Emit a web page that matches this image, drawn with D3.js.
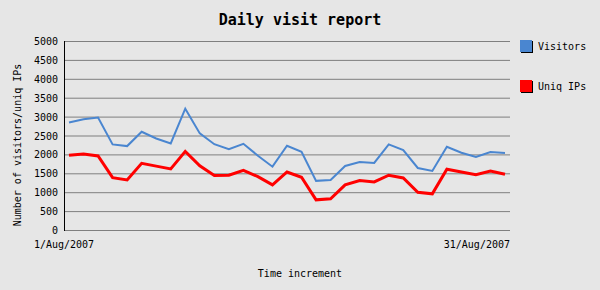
<!DOCTYPE html>
<html>
<head>
<meta charset="utf-8">
<script src="https://cdn.jsdelivr.net/npm/d3@7"></script>
<style>
  body { margin: 0; background: #e6e6e6; }
  svg { display: block; }
  text { font-family: "DejaVu Sans Mono", monospace; fill: #000; }
</style>
</head>
<body>
<div id="chart"></div>
<script>
"use strict";

// values, one per day of August 2007
const days = d3.range(1, 32);
const visitors = [2845, 2930, 2975, 2265, 2220, 2600, 2420, 2290, 3210, 2555,
                  2270, 2140, 2280, 1965, 1675, 2230, 2070, 1300, 1325, 1694,
                  1800, 1773, 2265, 2115, 1641, 1562, 2202, 2045, 1930, 2062, 2036];
const uniqIPs = [1975, 2010, 1960, 1385, 1325, 1765, 1690, 1615, 2080, 1700,
                 1440, 1450, 1580, 1412, 1193, 1535, 1395, 798, 825, 1193,
                 1307, 1272, 1450, 1378, 1000, 956, 1607, 1535, 1465, 1562, 1475];
const seriesNames = ["Visitors", "Uniq IPs"];
const seriesColors = ["#4a86d0", "#ff0000"];
const xTickLabels = ["1/Aug/2007", "31/Aug/2007"];
const yTicks = d3.range(0, 5001, 500);

var width = 600, height = 290;
var plotLeft = 64, plotRight = 510, plotTop = 41, plotBottom = 230;

var svg = d3.select("#chart").append("svg")
    .attr("width", width)
    .attr("height", height);

svg.append("rect").attr("width", width).attr("height", height).attr("fill", "#e6e6e6");

var x = d3.scaleLinear().domain([1, 31]).range([69, 505]);
var y = d3.scaleLinear().domain([0, 5000]).range([plotBottom, plotTop]);

// grid lines
svg.append("g")
    .selectAll("line")
    .data(yTicks)
    .enter().append("line")
    .attr("x1", plotLeft).attr("x2", plotRight)
    .attr("y1", function(d) { return y(d) + 0.5; })
    .attr("y2", function(d) { return y(d) + 0.5; })
    .attr("stroke", "#7f7f7f")
    .attr("stroke-width", 1);

// y tick labels
svg.append("g")
    .selectAll("text")
    .data(yTicks)
    .enter().append("text")
    .attr("x", 58)
    .attr("y", function(d) { return y(d) + 4; })
    .attr("text-anchor", "end")
    .style("font-size", "10px")
    .text(function(d) { return d; });

// left axis
svg.append("line")
    .attr("x1", plotLeft + 0.5).attr("x2", plotLeft + 0.5)
    .attr("y1", plotTop).attr("y2", plotBottom + 1)
    .attr("stroke", "#000");

// lines
var line = d3.line()
    .x(function(d, i) { return x(days[i]); })
    .y(function(d) { return y(d); });

[visitors, uniqIPs].forEach(function(s, k) {
  svg.append("path")
      .datum(s)
      .attr("d", line)
      .attr("fill", "none")
      .attr("stroke", seriesColors[k])
      .attr("stroke-width", k === 0 ? 2 : 3)
      .attr("stroke-linejoin", "miter");
});

// x labels
svg.append("text")
    .attr("x", plotLeft).attr("y", 248)
    .attr("text-anchor", "middle")
    .style("font-size", "10px")
    .text(xTickLabels[0]);
svg.append("text")
    .attr("x", plotRight).attr("y", 248)
    .attr("text-anchor", "end")
    .style("font-size", "10px")
    .text(xTickLabels[1]);

// titles
svg.append("text")
    .attr("x", 300).attr("y", 25)
    .attr("text-anchor", "middle")
    .style("font-size", "15px")
    .style("font-weight", "bold")
    .text("Daily visit report");

svg.append("text")
    .attr("x", 300).attr("y", 277)
    .attr("text-anchor", "middle")
    .style("font-size", "10px")
    .text("Time increment");

svg.append("text")
    .attr("transform", "translate(21,145)rotate(-90)")
    .attr("text-anchor", "middle")
    .style("font-size", "10px")
    .text("Number of visitors/uniq IPs");

// legend
var legend = svg.append("g")
    .selectAll("g")
    .data(seriesNames)
    .enter().append("g")
    .attr("transform", function(d, i) { return "translate(520," + (40 + i * 40) + ")"; });

legend.append("rect")
    .attr("x", 1).attr("y", 1)
    .attr("width", 12).attr("height", 12)
    .attr("fill", "#000");
legend.append("rect")
    .attr("width", 12).attr("height", 12)
    .attr("fill", function(d, i) { return seriesColors[i]; });
legend.append("text")
    .attr("x", 18).attr("y", 10)
    .style("font-size", "10px")
    .text(function(d) { return d; });
</script>
</body>
</html>
